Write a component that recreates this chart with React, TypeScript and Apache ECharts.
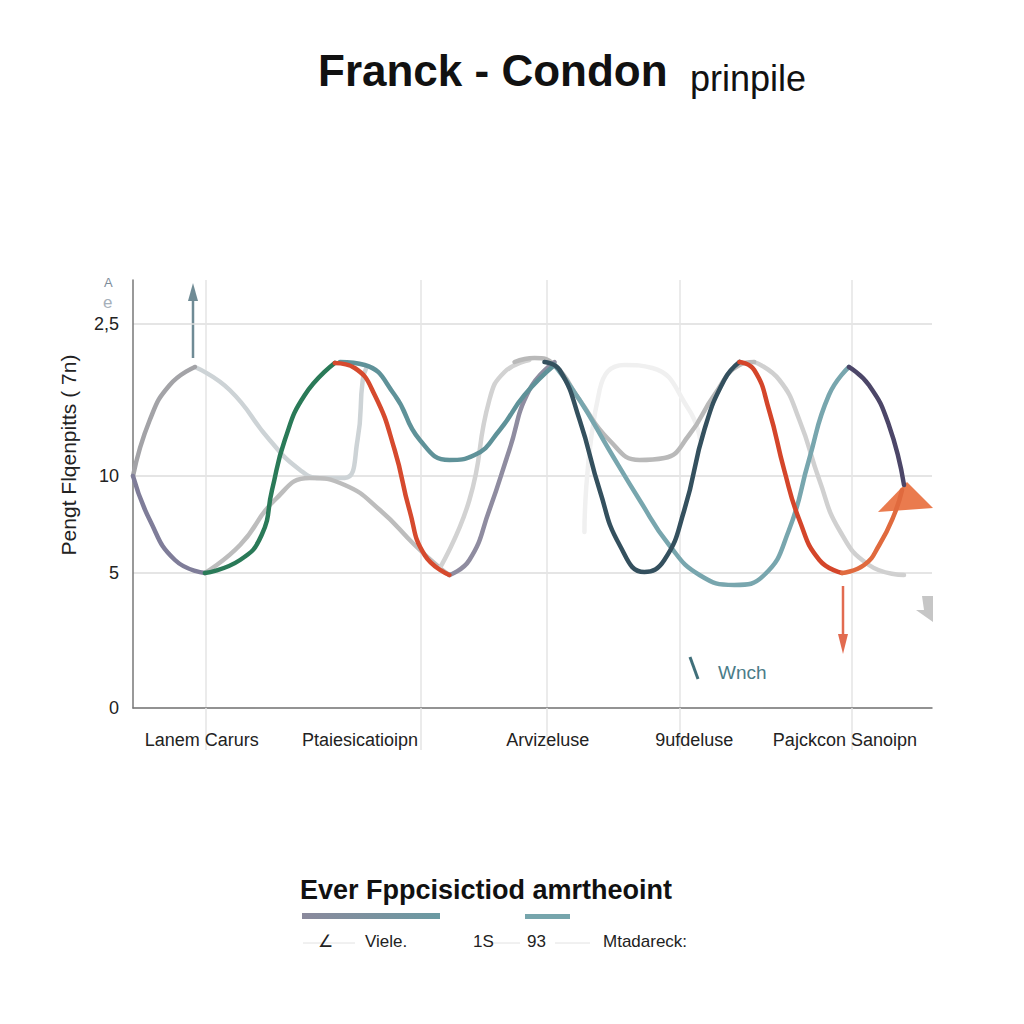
import React, { useEffect, useRef } from 'react';
import * as echarts from 'echarts';

// y tick positions (axis units) and the labels printed at them
const yTickValues = [0, 33.75, 58, 96];
const yTickLabels = ['0', '5', '10', '2,5'];

// x category labels and where they sit on the value axis
const xLabelValues = [8.6, 28.4, 51.9, 70.25, 89.1];
const xLabelTexts = ['Lanem Carurs', 'Ptaiesicatioipn', 'Arvizeluse', '9ufdeluse', 'Pajckcon Sanoipn'];
const xGridValues = [9.1, 36, 51.75, 68.4, 90];

// curve segments, [x, y] pairs
const faintArc = [[56.5, 44], [58.4, 79.5], [61.5, 85.75], [65, 85], [69.6, 74.5], [71, 67]];
const lightGrayDown = [[7.75, 85.25], [12.1, 79.5], [17.1, 67], [20.9, 59.5], [23.4, 57.5], [26.5, 57.5], [28.1, 67], [28.75, 82], [29.25, 85.25]];
const grayLower = [[9, 33.75], [13.4, 40.75], [17.75, 52], [22.1, 57.5], [26.5, 55.75], [30.9, 49.5], [35.25, 40.75], [38.4, 35], [39.6, 33.25]];
const lightGrayRise = [[38.4, 35], [42.1, 52], [44.6, 77], [46.5, 84], [49.6, 87]];
const lightGrayRight = [[77.75, 86.5], [80.9, 82], [83.4, 72], [85.9, 57], [88.4, 44.5], [92.1, 35.75], [96.5, 33.25]];
const grayUpperRight = [[47.75, 86.5], [50.25, 87.5], [52.75, 85.75], [55.9, 77], [59.6, 67], [63.4, 62], [66.5, 62.5], [69.6, 68.25], [72.75, 78.25], [75.9, 85.75], [77.75, 86.5]];
const grayUp = [[0, 58], [2.1, 72], [4.6, 80.75], [7.75, 85.25]];
const purpleDown = [[0, 58], [2.1, 47], [5.25, 37], [9, 33.75]];
const grayRise = [[39.6, 33.25], [42.1, 37], [44.6, 49.5], [47.1, 64.5], [49.6, 79.5], [52.75, 86.5]];
const teal1 = [[25.9, 86.5], [29, 85.75], [32.75, 78.25], [35.9, 67], [39.6, 62], [42.75, 63.25], [45.9, 69.5], [49, 78.25], [52.75, 85.75]];
const lightTeal = [[52.75, 85.75], [55.9, 77], [59.6, 64.5], [63.4, 52], [67.1, 40.75], [70.9, 33.25], [75.25, 30.75], [79, 33.25], [82.1, 44.5], [84.6, 62], [87.1, 78.25], [89.6, 85.25]];
const green = [[9, 33.75], [13.4, 37], [16.1, 43.25], [17.4, 54.5], [19, 67], [21.5, 78.25], [25.25, 86.25]];
const red1 = [[25.25, 86.25], [27.75, 85], [30.25, 78.25], [32.75, 64.5], [34.6, 49.5], [36.5, 38.25], [39.6, 33.25]];
const darkSlate = [[51.5, 86.5], [53.4, 84.5], [55.9, 72], [58.4, 54.5], [60.9, 40.75], [64, 34], [66.5, 37], [69, 49.5], [71.5, 69.5], [74, 82], [75.9, 86.5]];
const red2 = [[75.9, 86.5], [77.75, 84.5], [79.6, 74.5], [81.5, 59.5], [83.4, 47], [85.9, 37], [88.75, 33.75]];
const orange = [[88.75, 33.75], [91.5, 35.75], [93.4, 40.75], [95.25, 48.25], [96.25, 54.5]];
const darkPurple = [[89.6, 85.25], [92.1, 80.75], [94.6, 70.75], [96.5, 55.75]];

const segments: [number[][], string][] = [
  [faintArc, '#f0f0f0'],
  [lightGrayDown, '#cdd3d6'],
  [grayLower, '#bdbdbd'],
  [lightGrayRise, '#d2d2d2'],
  [lightGrayRight, '#d0d0d0'],
  [grayUpperRight, '#b9b9b9'],
  [grayUp, '#a3a3a7'],
  [purpleDown, '#7f7d99'],
  [grayRise, '#8f8ca0'],
  [teal1, '#5f9299'],
  [lightTeal, '#78a6ae'],
  [green, '#2a7a58'],
  [red1, '#d64a2e'],
  [darkSlate, '#34505e'],
  [red2, '#d4452a'],
  [orange, '#e06a3e'],
  [darkPurple, '#4c4668'],
];

const font = '"Liberation Sans", Arial, sans-serif';

const App = () => {
  const chartRef = useRef(null);

  useEffect(() => {
    const myChart = echarts.init(chartRef.current, null, { renderer: 'svg' });

    myChart.setOption({
      animation: false,
      backgroundColor: '#ffffff',
      textStyle: { fontFamily: font },
      grid: { left: 125, right: 84, top: 272, bottom: 308 },
      xAxis: {
        type: 'value',
        min: 0,
        max: 100,
        axisLine: { lineStyle: { color: '#777', width: 1.5 } },
        axisTick: {
          show: true,
          customValues: xGridValues,
          length: 42,
          lineStyle: { color: '#e4e4e4', width: 1.5 },
        },
        splitLine: { show: true, lineStyle: { color: '#e4e4e4', width: 1.5 } },
        axisLabel: {
          customValues: xLabelValues,
          formatter: (v: number) => {
            const i = xLabelValues.findIndex((x) => Math.abs(x - v) < 1e-6);
            return i >= 0 ? xLabelTexts[i] : '';
          },
          color: '#222',
          fontSize: 18,
          margin: 23,
        },
      },
      yAxis: {
        type: 'value',
        min: 0,
        max: 107,
        axisLine: { show: true, lineStyle: { color: '#777', width: 1.5 } },
        axisTick: { show: false, customValues: yTickValues },
        splitLine: { show: true, lineStyle: { color: '#dcdcdc', width: 1.5 } },
        axisLabel: {
          customValues: yTickValues,
          formatter: (v: number) => {
            const i = yTickValues.findIndex((y) => Math.abs(y - v) < 1e-6);
            return i >= 0 ? yTickLabels[i] : '';
          },
          color: '#222',
          fontSize: 18,
          margin: 14,
        },
      },
      series: segments.map(([data, color]) => ({
        type: 'line',
        data,
        smooth: 0.5,
        symbol: 'none',
        lineStyle: { color, width: 4.5, cap: 'round' },
      })),
      graphic: [
        {
          type: 'text',
          left: 310,
          top: 40,
          style: { text: 'Franck - Condon', font: `bold 44px ${font}`, fill: '#111' },
        },
        {
          type: 'text',
          left: 682,
          top: 52,
          style: { text: 'prinpile', font: `36px ${font}`, fill: '#111' },
        },
        {
          type: 'text',
          x: 60,
          y: 447,
          rotation: Math.PI / 2,
          style: {
            text: 'Pengt Flqenpitts ( 7n)',
            font: `21px ${font}`,
            fill: '#222',
            align: 'center',
            verticalAlign: 'middle',
          },
        },
        { type: 'text', x: 96, y: 268, style: { text: 'A', font: `13px ${font}`, fill: '#7d8c9a' } },
        { type: 'text', x: 95, y: 286, style: { text: 'e', font: `17px ${font}`, fill: '#a6b0ba' } },
        // arrows
        { type: 'line', shape: { x1: 185, y1: 350, x2: 185, y2: 290 }, style: { stroke: '#6f8b95', lineWidth: 2.5 } },
        { type: 'polygon', shape: { points: [[185, 275], [180, 293], [190, 293]] }, style: { fill: '#6f8b95' } },
        { type: 'line', shape: { x1: 835, y1: 578, x2: 835, y2: 630 }, style: { stroke: '#e26b50', lineWidth: 2.5 } },
        { type: 'polygon', shape: { points: [[835, 646], [830, 626], [840, 626]] }, style: { fill: '#e26b50' } },
        { type: 'polygon', shape: { points: [[899, 474], [870, 504], [925, 500]] }, style: { fill: '#e8703f', opacity: 0.92 } },
        { type: 'polygon', shape: { points: [[914, 588], [925, 588], [925, 614], [908, 602], [916, 602]] }, style: { fill: '#c6c6c6' } },
        { type: 'line', shape: { x1: 682, y1: 649, x2: 690, y2: 671 }, style: { stroke: '#3f6f7a', lineWidth: 3 } },
        { type: 'text', x: 710, y: 655, style: { text: 'Wnch', font: `19px ${font}`, fill: '#4a7c88' } },
        // bottom legend block
        {
          type: 'text',
          x: 292,
          y: 868,
          style: { text: 'Ever Fppcisictiod amrtheoint', font: `bold 27px ${font}`, fill: '#111' },
        },
        {
          type: 'rect',
          shape: { x: 294, y: 905, width: 138, height: 6 },
          style: {
            fill: new echarts.graphic.LinearGradient(0, 0, 1, 0, [
              { offset: 0, color: '#8a899c' },
              { offset: 1, color: '#6a9aa2' },
            ]),
          },
        },
        { type: 'rect', shape: { x: 517, y: 906, width: 45, height: 5 }, style: { fill: '#76a5ac' } },
        { type: 'line', shape: { x1: 295, y1: 935, x2: 347, y2: 935 }, style: { stroke: '#e2e2e2', lineWidth: 1 } },
        { type: 'line', shape: { x1: 482, y1: 935, x2: 512, y2: 935 }, style: { stroke: '#e2e2e2', lineWidth: 1 } },
        { type: 'line', shape: { x1: 547, y1: 935, x2: 582, y2: 935 }, style: { stroke: '#e2e2e2', lineWidth: 1 } },
        { type: 'text', x: 310, y: 925, style: { text: '∠', font: `17px ${font}`, fill: '#222' } },
        { type: 'text', x: 357, y: 925, style: { text: 'Viele.', font: `17px ${font}`, fill: '#222' } },
        { type: 'text', x: 465, y: 925, style: { text: '1S', font: `17px ${font}`, fill: '#222' } },
        { type: 'text', x: 519, y: 925, style: { text: '93', font: `17px ${font}`, fill: '#222' } },
        { type: 'text', x: 595, y: 925, style: { text: 'Mtadareck:', font: `17px ${font}`, fill: '#222' } },
      ],
    });

    return () => {
      myChart.dispose();
    };
  }, []);

  return <div ref={chartRef} style={{ width: '1008px', height: '1008px' }} />;
};

export default App;
